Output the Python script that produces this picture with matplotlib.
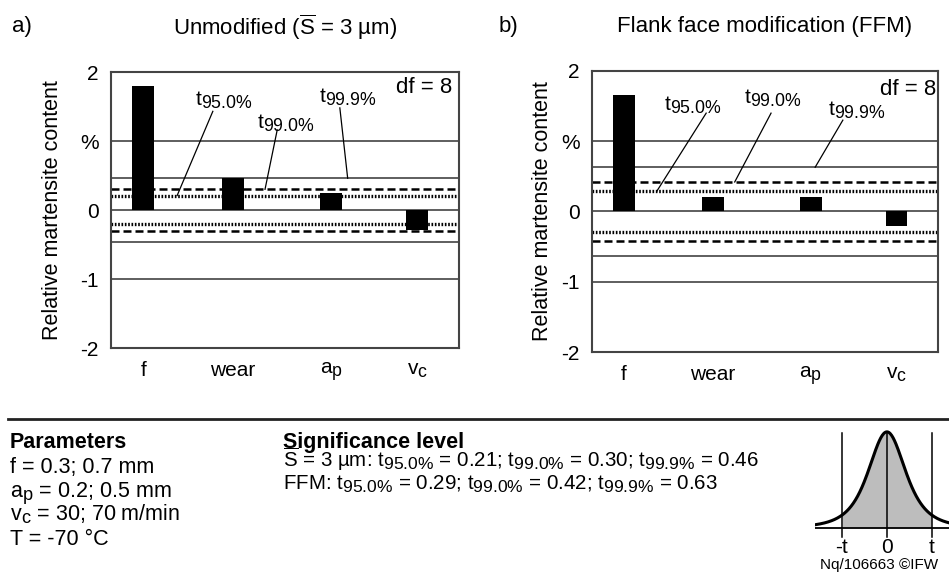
import numpy as np
import matplotlib
import matplotlib.pyplot as plt
from matplotlib.lines import Line2D

plt.rcParams['font.family'] = ['Liberation Sans', 'DejaVu Sans']
plt.rcParams['mathtext.fontset'] = 'custom'
plt.rcParams['mathtext.rm'] = 'Liberation Sans'
plt.rcParams['mathtext.it'] = 'Liberation Sans'
plt.rcParams['mathtext.default'] = 'regular'
# subscripts in the original are only slightly smaller than the base text
matplotlib._mathtext.SHRINK_FACTOR = 0.85

# data
factors = ['f', 'wear', '$a_p$', '$v_c$']
xpos = [0.37, 1.40, 2.53, 3.52]
effect_unmod = [1.80, 0.46, 0.25, -0.29]
effect_ffm = [1.66, 0.21, 0.21, -0.21]
levels = ['95.0', '99.0', '99.9']
t_unmod = [0.21, 0.30, 0.46]
t_ffm = [0.29, 0.42, 0.63]

line_col = '#333333'


def draw_panel(ax, effects, t, text_xy, lead_from, lead_x):
    ax.set_xlim(0, 4)
    ax.set_ylim(-2, 2)
    for y in [-1, 0, 1]:
        ax.axhline(y, color=line_col, lw=1.1, zorder=1)
    for s in [1, -1]:
        ax.axhline(s * t[2], color=line_col, lw=1.1, zorder=1)
        ax.axhline(s * t[1], color='black', lw=1.8, dashes=(3.2, 1.6), zorder=1)
        ax.axhline(s * t[0], color='black', lw=2.4, dashes=(0.5, 0.5), zorder=1)
    ax.bar(xpos, effects, width=0.25, color='black', zorder=3)

    # leader lines + labels for the thresholds
    for i in range(3):
        ax.text(text_xy[i][0], text_xy[i][1], 't$_{' + levels[i] + '\\%}$',
                fontsize=15, ha='center', va='center')
        ax.plot([lead_from[i][0], lead_x[i]], [lead_from[i][1], t[i]],
                color='black', lw=0.9, zorder=2)

    ax.set_yticks([-2, -1, 0, 1, 2])
    ax.set_yticklabels(['-2', '-1', '0', '%', '2'])
    ax.set_xticks(xpos)
    ax.set_xticklabels(factors)
    ax.tick_params(axis='y', length=0, labelsize=15, pad=9)
    ax.tick_params(axis='x', length=0, labelsize=15, pad=9)
    for sp in ax.spines.values():
        sp.set_color('#444444')
        sp.set_linewidth(1.5)
    ax.set_ylabel('Relative martensite content', fontsize=15.5)


fig = plt.figure(figsize=(9.49, 5.72), dpi=100)

ax1 = fig.add_axes([0.117, 0.3916, 0.3667, 0.4825])
draw_panel(ax1, effect_unmod, t_unmod,
           text_xy=[(1.30, 1.59), (2.01, 1.26), (2.72, 1.64)],
           lead_from=[(1.17, 1.43), (1.91, 1.16), (2.63, 1.48)],
           lead_x=[0.76, 1.77, 2.72])
ax1.text(3.92, 1.77, 'df = 8', fontsize=16, ha='right', va='center')
ax1.yaxis.set_label_coords(-0.1375, 0.5)

ax2 = fig.add_axes([0.6238, 0.3846, 0.3646, 0.4913])
draw_panel(ax2, effect_ffm, t_ffm,
           text_xy=[(1.17, 1.51), (2.09, 1.61), (3.06, 1.44)],
           lead_from=[(1.32, 1.40), (2.07, 1.40), (2.90, 1.30)],
           lead_x=[0.75, 1.65, 2.58])
ax2.text(3.98, 1.73, 'df = 8', fontsize=16, ha='right', va='center')
ax2.yaxis.set_label_coords(-0.113, 0.5)

# titles
fig.text(0.013, 0.953, 'a)', fontsize=16, va='center')
fig.text(0.300, 0.953, 'Unmodified ($\\overline{S}$ = 3 µm)', fontsize=16,
         ha='center', va='center')
fig.text(0.525, 0.953, 'b)', fontsize=16, va='center')
fig.text(0.806, 0.953, 'Flank face modification (FFM)', fontsize=16,
         ha='center', va='center')

# separator
fig.add_artist(Line2D([0.008, 1.0], [0.2675, 0.2675], color='#222222', lw=2))

# parameter block
fig.text(0.0105, 0.2168, 'Parameters', fontsize=15.5, fontweight='bold', va='baseline')
fig.text(0.0105, 0.1731, 'f = 0.3; 0.7 mm', fontsize=15.5, va='baseline')
fig.text(0.0105, 0.1311, '$a_p$ = 0.2; 0.5 mm', fontsize=15.5, va='baseline')
fig.text(0.0105, 0.0909, '$v_c$ = 30; 70 m/min', fontsize=15.5, va='baseline')
fig.text(0.0105, 0.0472, 'T = -70 °C', fontsize=15.5, va='baseline')

sig_a = '; '.join('t$_{%s\\%%}$ = %.2f' % (l, v) for l, v in zip(levels, t_unmod))
sig_b = '; '.join('t$_{%s\\%%}$ = %.2f' % (l, v) for l, v in zip(levels, t_ffm))
fig.text(0.298, 0.2168, 'Significance level', fontsize=15.5, fontweight='bold', va='baseline')
fig.text(0.298, 0.1836, '$\\overline{S}$ = 3 µm: ' + sig_a, fontsize=14.8, va='baseline')
fig.text(0.298, 0.1434, 'FFM: ' + sig_b, fontsize=14.8, va='baseline')

# schematic t-distribution (df = 3 shape)
t_icon = 1.0
scale_icon = t_icon / 2.28
axi = fig.add_axes([0.8588, 0.0559, 0.1412, 0.1958])
axi.set_xlim(-1.6 * t_icon, 1.38 * t_icon)
axi.set_ylim(-0.125, 1.04)
z = np.linspace(-1.6 * t_icon, 1.6 * t_icon, 200)
curve = (1.0 + (z / scale_icon) ** 2 / 3.0) ** -2
mask = np.abs(z) <= t_icon
axi.fill_between(z[mask], 0, curve[mask], color='#bdbdbd', lw=0)
axi.plot(z, curve, color='black', lw=2.2)
axi.axhline(0, color='black', lw=1.3)
for xv in [-t_icon, 0, t_icon]:
    axi.plot([xv, xv], [-0.09, 0.99], color='black', lw=1.1)
axi.axis('off')
fig.text(0.8872, 0.042, '-t', fontsize=15, ha='center', va='center')
fig.text(0.9347, 0.042, '0', fontsize=15, ha='center', va='center')
fig.text(0.9821, 0.042, 't', fontsize=15, ha='center', va='center')
fig.text(0.864, 0.013, 'Nq/106663 ©IFW', fontsize=11, va='center')

fig.savefig('out.png', dpi=100)
